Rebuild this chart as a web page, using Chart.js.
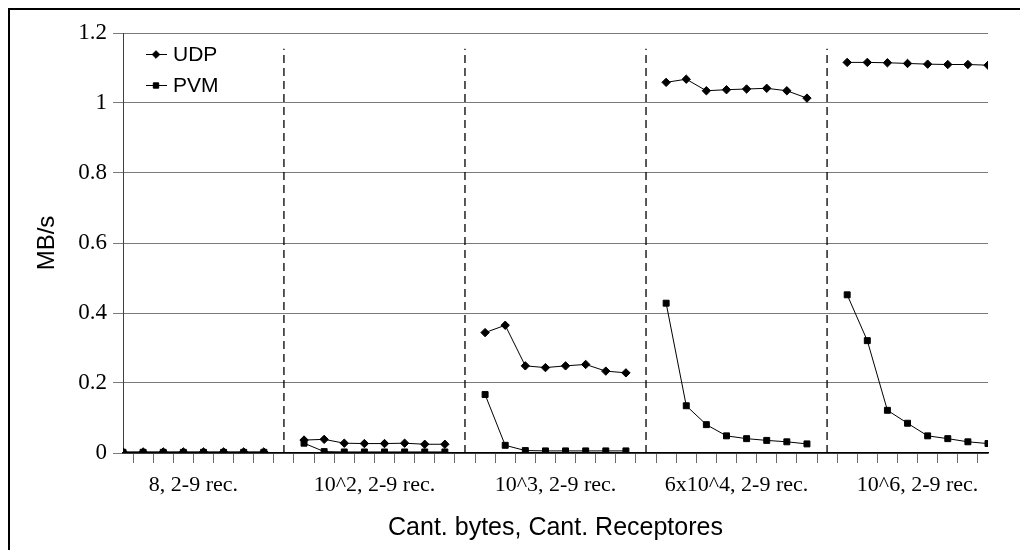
<!DOCTYPE html>
<html>
<head>
<meta charset="utf-8">
<script src="https://cdn.jsdelivr.net/npm/chart.js@4/dist/chart.umd.min.js"></script>
<style>
  html, body { margin: 0; padding: 0; background: #fff; }
  #wrap { position: relative; width: 1020px; height: 550px; overflow: hidden; }
  #frame { position: absolute; left: 8px; top: 8px; width: 1100px; height: 600px;
           border-top: 2px solid #000; border-left: 2px solid #000; }
  #chart { position: absolute; left: 0; top: 0; }
</style>
</head>
<body>
<div id="wrap">
  <div id="frame"></div>
  <canvas id="chart" width="1020" height="550"></canvas>
</div>
<script>
// Message size groups (bytes) and receiver counts within each group
const groupLabels = ['8, 2-9 rec.', '10^2, 2-9 rec.', '10^3, 2-9 rec.', '6x10^4, 2-9 rec.', '10^6, 2-9 rec.'];
const receivers = [2, 3, 4, 5, 6, 7, 8, 9];

// Throughput in MB/s, one array per message size
const udp_8   = [0.003, 0.003, 0.003, 0.003, 0.003, 0.003, 0.003, 0.003];
const pvm_8   = [0.002, 0.002, 0.002, 0.002, 0.002, 0.002, 0.002, 0.002];
const udp_1e2 = [0.037, 0.039, 0.028, 0.027, 0.027, 0.028, 0.025, 0.025];
const pvm_1e2 = [0.028, 0.004, 0.003, 0.003, 0.003, 0.003, 0.003, 0.003];
const udp_1e3 = [0.344, 0.365, 0.249, 0.244, 0.249, 0.253, 0.234, 0.229];
const pvm_1e3 = [0.167, 0.022, 0.007, 0.006, 0.006, 0.006, 0.006, 0.006];
const udp_6e4 = [1.059, 1.068, 1.035, 1.038, 1.040, 1.042, 1.035, 1.014];
const pvm_6e4 = [0.428, 0.135, 0.081, 0.049, 0.041, 0.036, 0.032, 0.026];
const udp_1e6 = [1.116, 1.116, 1.115, 1.113, 1.111, 1.110, 1.110, 1.108];
const pvm_1e6 = [0.452, 0.321, 0.122, 0.085, 0.049, 0.041, 0.032, 0.027];

const udpGroups = [udp_8, udp_1e2, udp_1e3, udp_6e4, udp_1e6];
const pvmGroups = [pvm_8, pvm_1e2, pvm_1e3, pvm_6e4, pvm_1e6];

// Y axis ticks and the height of the group separators
const yTicks = [0, 0.2, 0.4, 0.6, 0.8, 1, 1.2];
const separatorTop = 1.155;

// Each group takes one slot per receiver count plus an empty slot holding the separator
const slot = receivers.length + 1;
const lastX = groupLabels.length * slot - 2;

function seriesPoints(groups) {
  const pts = [];
  groups.forEach((vals, g) => {
    vals.forEach((v, i) => pts.push({ x: g * slot + i, y: v }));
    if (g < groups.length - 1) pts.push({ x: g * slot + receivers.length, y: null });
  });
  return pts;
}

const separators = groupLabels.slice(0, -1).map((_, g) => ({
  type: 'line',
  label: 'sep' + g,
  data: [{ x: g * slot + receivers.length, y: 0 }, { x: g * slot + receivers.length, y: separatorTop }],
  borderColor: '#000',
  borderWidth: 1.3,
  borderDash: [8, 5],
  pointRadius: 0,
  order: 5
}));

const datasets = [
  {
    label: 'UDP',
    data: seriesPoints(udpGroups),
    borderColor: '#000',
    backgroundColor: '#000',
    borderWidth: 1,
    pointStyle: 'rectRot',
    pointRadius: 4.2,
    pointBorderWidth: 1,
    spanGaps: false,
    order: 1
  },
  {
    label: 'PVM',
    data: seriesPoints(pvmGroups),
    borderColor: '#000',
    backgroundColor: '#000',
    borderWidth: 1,
    pointStyle: 'rect',
    pointRadius: 4.2,
    pointBorderWidth: 1,
    spanGaps: false,
    order: 0
  },
  ...separators
];

// Legend drawn inside the plot: short line with the series marker, then the name
const lineLegend = {
  id: 'lineLegend',
  afterDatasetsDraw(chart) {
    const { ctx, chartArea: a } = chart;
    chart.data.datasets.slice(0, 2).forEach((ds, i) => {
      const cy = a.top + 21.5 + i * 31;
      ctx.save();
      ctx.strokeStyle = ds.borderColor;
      ctx.fillStyle = ds.backgroundColor;
      ctx.lineWidth = 1;
      ctx.beginPath();
      ctx.moveTo(a.left + 23, cy);
      ctx.lineTo(a.left + 44, cy);
      ctx.stroke();
      Chart.helpers.drawPoint(ctx, { pointStyle: ds.pointStyle, radius: ds.pointRadius - 0.4, borderWidth: 1 }, a.left + 33, cy);
      ctx.font = '21px "Liberation Sans", Arial, sans-serif';
      ctx.textBaseline = 'middle';
      ctx.textAlign = 'left';
      ctx.fillStyle = '#000';
      ctx.fillText(ds.label, a.left + 50, cy + 1);
      ctx.restore();
    });
  }
};

new Chart(document.getElementById('chart'), {
  type: 'line',
  data: { datasets },
  plugins: [lineLegend],
  options: {
    responsive: false,
    animation: false,
    devicePixelRatio: 1,
    layout: { padding: { left: 0, top: 33, right: 32, bottom: 0 } },
    plugins: { legend: { display: false }, tooltip: { enabled: false } },
    scales: {
      x: {
        type: 'linear',
        min: 0,
        max: lastX,
        afterBuildTicks(scale) {
          const t = [];
          for (let k = 0; k < lastX; k++) t.push({ value: k + 0.5 });
          scale.ticks = t;
        },
        afterFit(scale) { scale.height = 97; },
        ticks: {
          autoSkip: false,
          maxRotation: 0,
          minRotation: 0,
          padding: 9,
          color: '#000',
          font: { family: '"Liberation Serif", "Times New Roman", serif', size: 22 },
          callback(value) {
            const g = groupLabels.findIndex((_, i) => Math.abs(i * slot + (receivers.length - 1) / 2 - value) < 1e-6);
            return g >= 0 ? groupLabels[g] : '';
          }
        },
        grid: { drawOnChartArea: false, drawTicks: true, tickLength: 10, color: '#6a6a6a', lineWidth: 1 },
        border: { display: true, color: '#000', width: 1.5 },
        title: {
          display: true,
          text: 'Cant. bytes, Cant. Receptores',
          color: '#000',
          font: { family: '"Liberation Sans", Arial, sans-serif', size: 25 },
          padding: { top: 0, bottom: 7 }
        }
      },
      y: {
        min: 0,
        max: 1.2,
        afterBuildTicks(scale) { scale.ticks = yTicks.map(v => ({ value: v })); },
        afterFit(scale) { scale.width = 123; },
        ticks: {
          padding: 6,
          color: '#000',
          font: { family: '"Liberation Serif", "Times New Roman", serif', size: 23 },
          callback: v => String(v)
        },
        grid: { color: '#7a7a7a', lineWidth: 1, tickLength: 10 },
        border: { display: true, color: '#404040', width: 1 },
        title: {
          display: true,
          text: 'MB/s',
          color: '#000',
          font: { family: '"Liberation Sans", Arial, sans-serif', size: 24 },
          padding: { top: 33, bottom: 0 }
        }
      }
    }
  }
});
</script>
</body>
</html>
